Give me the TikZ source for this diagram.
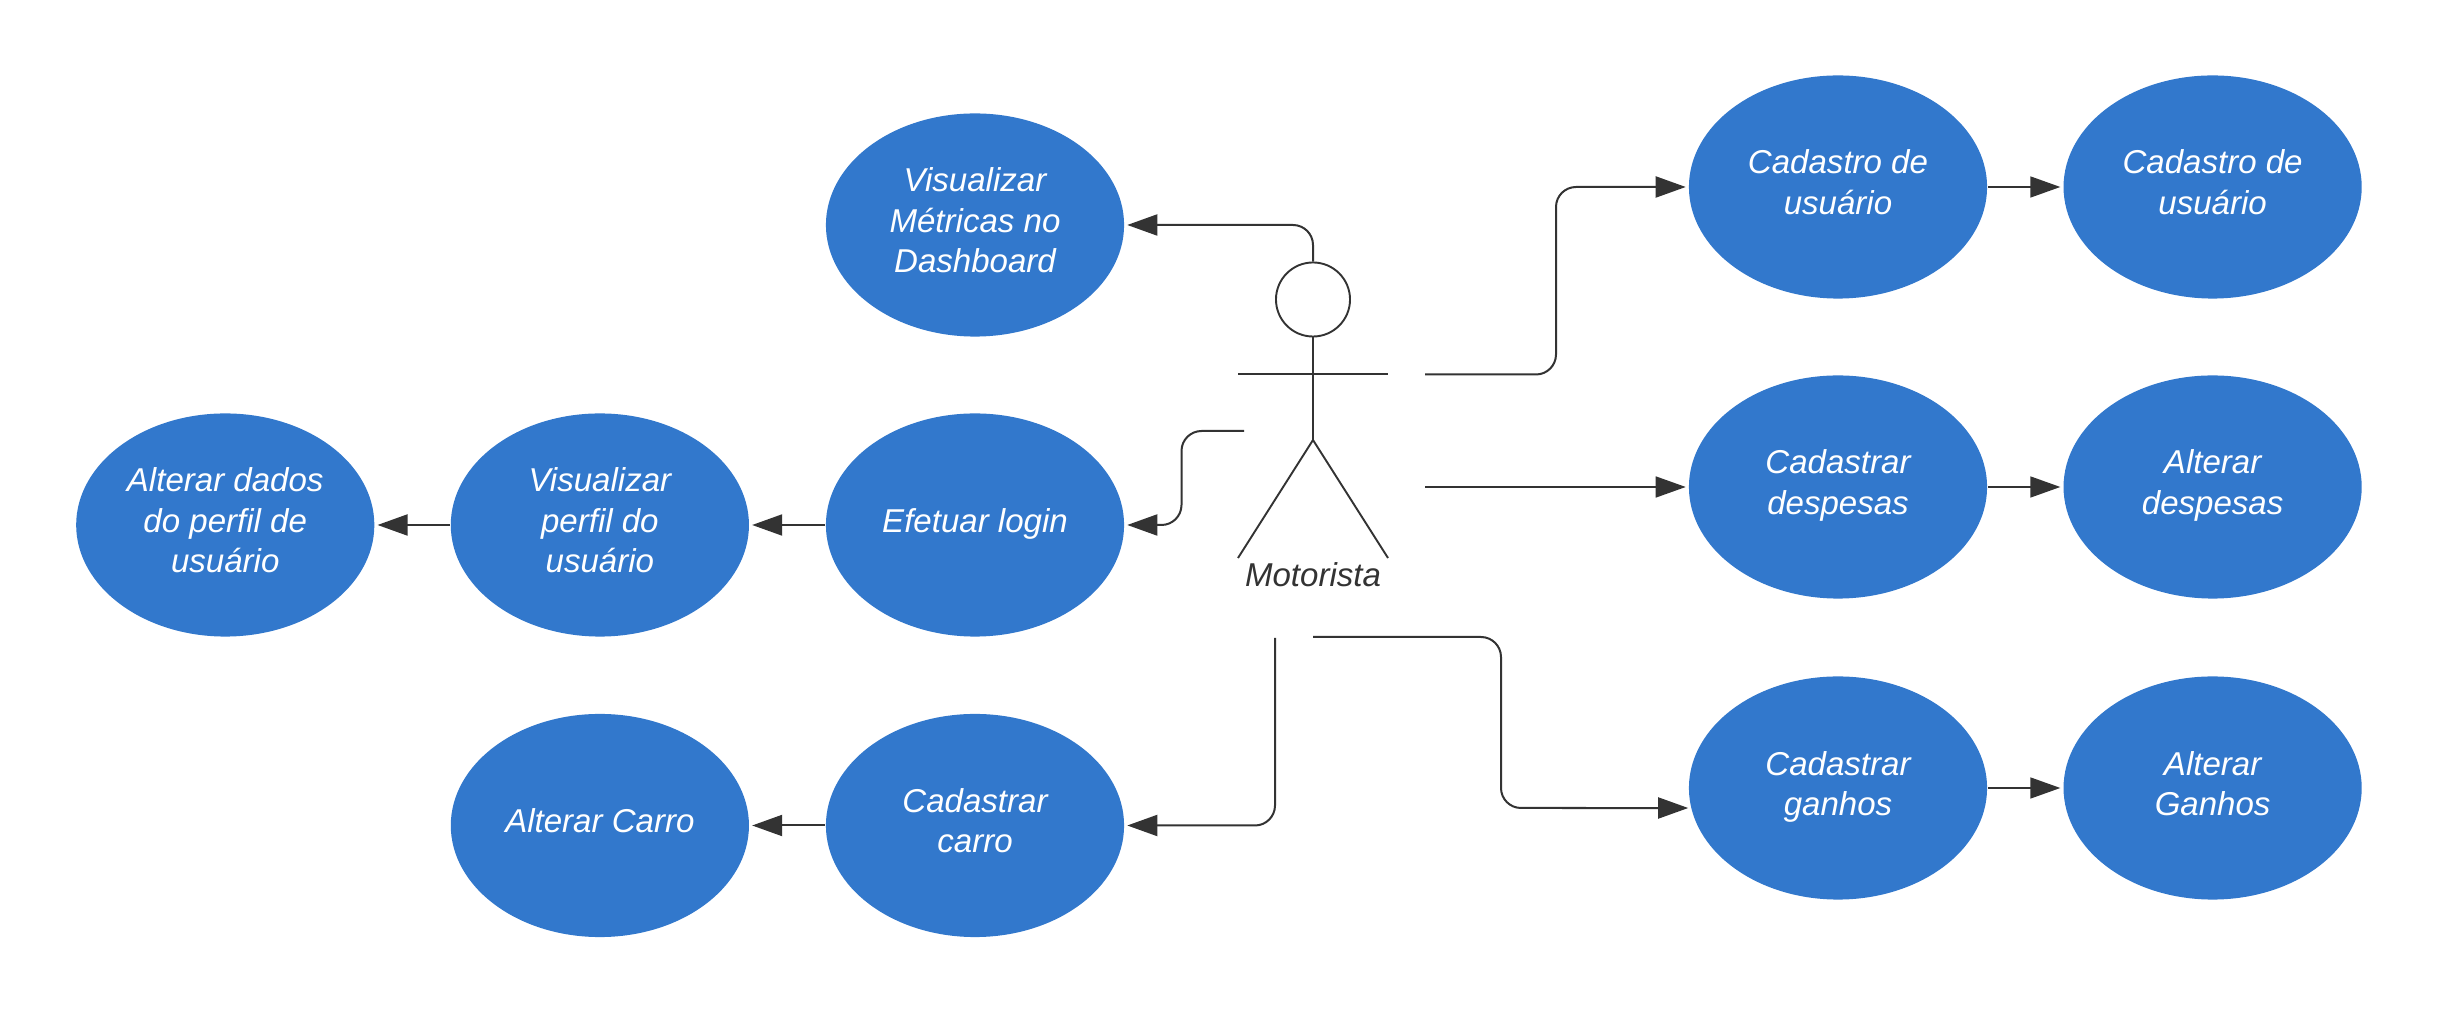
\documentclass[tikz,border=0pt]{standalone}
\usepackage{fontspec}
\setmainfont{Liberation Sans}
\definecolor{CaseBlue}{RGB}{50, 120, 204}
\definecolor{LineGray}{RGB}{51, 51, 51}
\usetikzlibrary{arrows.meta, positioning, shapes.geometric}

\tikzset{
    usecase/.style={ellipse, fill=CaseBlue, text=white, inner sep=0pt, minimum width=2.98cm, minimum height=2.23cm, align=center, font=\fontsize{9.4}{11.5}\selectfont\itshape, execute at end node=\rule[-0.095cm]{0pt}{0.1cm}},
    link/.style={->, draw=LineGray, line width=0.02cm, rounded corners=0.2cm, shorten >=0.025cm},
    thinlink/.style={link, line width=0.016cm},
    actorline/.style={draw=LineGray, line width=0.019cm}
}

\begin{document}
\begin{tikzpicture}[x=0.01cm, y=-0.01cm, >={Triangle[length=0.3cm, width=0.21cm]}, node distance=0.75cm]
    \useasboundingbox (0,0) rectangle (2438,1013);
    % Left side
    \node[usecase] (metricas) at (975,225) {Visualizar\\Métricas no\\Dashboard};
    \node[usecase] (login) at (975,525) {Efetuar login};
    \node[usecase, left=0.755cm of login] (perfil) {Visualizar\\perfil do\\usuário};
    \node[usecase, left=0.75cm of perfil] (dados) {Alterar dados\\do perfil de\\usuário};
    \node[usecase] (carro) at (975,825.5) {Cadastrar\\carro};
    \node[usecase, left=0.755cm of carro] (altcarro) {Alterar Carro};
    % Right side
    \node[usecase] (usuario) at (1838,187) {Cadastro de\\usuário};
    \node[usecase, right=0.75cm of usuario] (usuario2) {Cadastro de\\usuário};
    \node[usecase] (despesas) at (1838,487) {Cadastrar\\despesas};
    \node[usecase, right=0.75cm of despesas] (altdespesas) {Alterar\\despesas};
    \node[usecase] (ganhos) at (1838,788) {Cadastrar\\ganhos};
    \node[usecase, right=0.75cm of ganhos] (altganhos) {Alterar\\Ganhos};
    % Actor
    \node[circle, actorline, inner sep=0pt, minimum size=0.74cm] (head) at (1313,299.5) {};
    \coordinate (hip) at (1313,440);
    \coordinate (armL) at (1238,374);
    \coordinate (armR) at (1388,374);
    \coordinate (footL) at (1238,558);
    \coordinate (footR) at (1388,558);
    \draw[actorline] (head.south) -- (hip);
    \draw[actorline] (armL) -- (armR);
    \draw[actorline] (footL) -- (hip) -- (footR);
    \node[text=LineGray, font=\fontsize{9.4}{11.5}\selectfont\itshape] (motorista) at (1313,575) {Motorista};
    % Connector ends near the actor
    \coordinate (outA) at (1425,374.5);
    \coordinate (outB) at (1425,487);
    \coordinate (outC) at (1313,637);
    \coordinate (outD) at (1275,638);
    \coordinate (outE) at (1244,431);
    \coordinate (bendA) at (1556,187);
    \coordinate (bendC) at (1501,808);
    \coordinate (bendE) at (1181.5,525);
    % Actor to use cases
    \draw[link] (head.north) |- (metricas.east);
    \draw[link] (outE) -| (bendE) -- (login.east);
    \draw[link] (outD) |- (carro.east);
    \draw[link] (outA) -| (bendA) -- (usuario.west);
    \draw[thinlink] (outB) -- (despesas.west);
    \draw[link, shorten >=0pt] (outC) -| (bendC) -- ([yshift=-0.2cm]ganhos.west);
    % Between use cases
    \draw[link] (login) -- (perfil);
    \draw[link] (perfil) -- (dados);
    \draw[link] (carro) -- (altcarro);
    \draw[thinlink] (usuario) -- (usuario2);
    \draw[thinlink] (despesas) -- (altdespesas);
    \draw[thinlink] (ganhos) -- (altganhos);
\end{tikzpicture}
\end{document}
